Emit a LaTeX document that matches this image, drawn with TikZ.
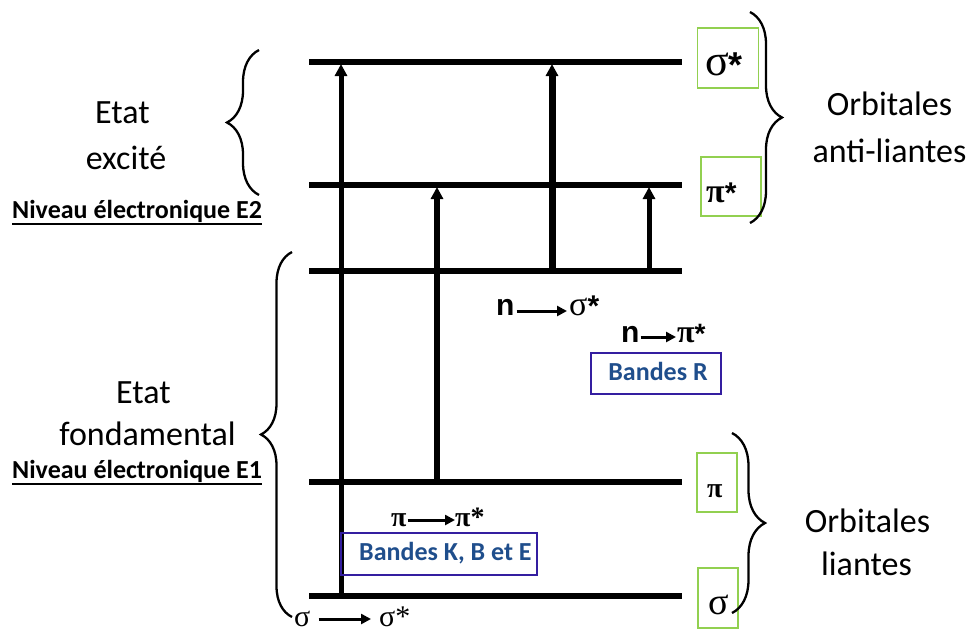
\documentclass[tikz,border=0pt]{standalone}
\usepackage{fontspec}
\setmainfont{Carlito}
\newfontfamily\grk{Liberation Serif}
\newfontfamily\arl{Liberation Sans}
\usetikzlibrary{arrows.meta,decorations.pathreplacing}
\definecolor{boxgreen}{RGB}{146,208,80}
\definecolor{bandblue}{RGB}{31,78,140}
\definecolor{bandframe}{RGB}{52,30,160}
\newcommand\fs[1]{\fontsize{#1}{#1}\selectfont}

\begin{document}
\begin{tikzpicture}[x=1pt,y=-1pt,
  level/.style={line width=5.5pt},
  excite/.style={line width=#1,-{Triangle[width=12pt,length=12pt]}},
  excite/.default=5pt,
  orb/.style={draw=boxgreen,line width=1.3pt,inner sep=0pt},
  band/.style={draw=bandframe,line width=1.3pt,inner sep=0pt},
  bandtxt/.style={text=bandblue,font=\fs{26}\bfseries,inner sep=0pt},
  lbl/.style={font=\fs{34},inner sep=0pt,anchor=base},
  niv/.style={font=\fs{26}\bfseries,inner sep=0pt,anchor=base west},
  brc/.style={line width=2.3pt,decorate,decoration={brace,amplitude=#1}},
  trans/.style={line width=3pt,-{Triangle[width=10pt,length=10pt]}},
  tx/.style={inner sep=0pt,anchor=base west}
]
\useasboundingbox (0,0) rectangle (972,633);

% energy levels
\foreach \nm/\yy in {sst/62, pst/185, nn/271, pp/482, ss/596}{
  \coordinate (\nm L) at (309,\yy);
  \coordinate (\nm R) at (682,\yy);
}
\draw[level] (sstL) -- (sstR);
\draw[level] (pstL) -- (pstR);
\draw[level] (nnL) -- (nnR);
\draw[level] (ppL) -- (ppR);
\draw[level] (ssL) -- (ssR);

% vertical transitions
\coordinate (t1a) at (341,596); \coordinate (t1b) at (341,64);
\coordinate (t2a) at (437,482); \coordinate (t2b) at (437,187);
\coordinate (t3a) at (552,271); \coordinate (t3b) at (552,64);
\coordinate (t4a) at (649,271); \coordinate (t4b) at (649,187);
\draw[excite] (t1a) -- (t1b);
\draw[excite=5.5pt] (t2a) -- (t2b);
\draw[excite=7pt] (t3a) -- (t3b);
\draw[excite] (t4a) -- (t4b);

% orbital boxes and their symbols
\node[orb,minimum width=61pt,minimum height=60pt] (bsst) at (728,58) {};
\node[orb,minimum width=60pt,minimum height=59pt] (bpst) at (731,186.5) {};
\node[orb,minimum width=40pt,minimum height=59pt] (bpp) at (717,482.5) {};
\node[orb,minimum width=40pt,minimum height=60pt] (bss) at (718,598) {};
\node[tx] (lsst) at (705,75) {\grk\fs{44}σ\raisebox{-2pt}{\arl\fs{36}\bfseries*}};
\node[tx] (lpst) at (706,202) {\grk\fs{34}\bfseries π\raisebox{-1pt}{\arl\fs{30}*}};
\node[tx] (lpp) at (707,497) {\grk\fs{28}\bfseries π};
\node[tx] (lss) at (708,614) {\grk\fs{38}σ};

% braces
\coordinate (bl1a) at (259,195); \coordinate (bl1b) at (259,50);
\coordinate (bl2a) at (292,617); \coordinate (bl2b) at (292,252);
\coordinate (br1a) at (750,12);  \coordinate (br1b) at (750,223);
\coordinate (br2a) at (732,433); \coordinate (br2b) at (732,613);
\draw[brc=32pt] (bl1a) -- (bl1b);
\draw[brc=31pt] (bl2a) -- (bl2b);
\draw[brc=32pt] (br1a) -- (br1b);
\draw[brc=33pt] (br2a) -- (br2b);

% state labels
\node[lbl] (e1) at (122.5,123) {Etat};
\node[lbl] (e2) at (126,169) {excité};
\node[niv] (nv2) at (12,218) {Niveau électronique E2};
\draw[line width=1.8pt] ([yshift=-6pt]nv2.base west) -- ([yshift=-6pt]nv2.base east);
\node[lbl] (f1) at (143.5,403) {Etat};
\node[lbl] (f2) at (147.5,445) {fondamental};
\node[niv] (nv1) at (12,478) {Niveau électronique E1};
\draw[line width=1.8pt] ([yshift=-6pt]nv1.base west) -- ([yshift=-6pt]nv1.base east);

\node[lbl] (o1) at (889.5,115) {Orbitales};
\node[lbl] (o2) at (889.5,162) {anti-liantes};
\node[lbl] (o3) at (867.5,532) {Orbitales};
\node[lbl] (o4) at (866.5,575) {liantes};

% transition labels
\node[tx] (n1) at (496,315) {\arl\fs{30}\bfseries n};
\node[tx] (s1) at (569,315) {\grk\fs{34}σ\raisebox{-1pt}{\arl\fs{30}\bfseries*}};
\draw[trans] ([shift={(2pt,4pt)}]n1.base east) -- ([shift={(-2pt,4pt)}]s1.base west);

\node[tx] (n2) at (621,342) {\arl\fs{30}\bfseries n};
\node[tx] (p2) at (677,342) {\grk\fs{32}\bfseries π\raisebox{-1pt}{\arl\fs{28}\bfseries*}};
\draw[trans] ([shift={(1pt,5pt)}]n2.base east) -- ([shift={(-1pt,5pt)}]p2.base west);

\node[tx] (p3) at (391,526) {\grk\fs{28}\bfseries π};
\node[tx] (p4) at (455,526) {\grk\fs{28}\bfseries π*};
\draw[trans] ([shift={(1pt,6pt)}]p3.base east) -- ([shift={(0pt,6pt)}]p4.base west);

\node[tx] (s3) at (294,626) {\grk\fs{30}σ};
\node[tx] (s4) at (379,626) {\grk\fs{30}σ*};
\draw[trans] ([shift={(8pt,7pt)}]s3.base east) -- ([shift={(-8pt,7pt)}]s4.base west);

% band boxes
\node[band,minimum width=130pt,minimum height=41pt] (bR) at (656,373.5) {};
\node[bandtxt,anchor=base] (tR) at (658,380) {Bandes R};
\node[band,minimum width=196pt,minimum height=42pt] (bK) at (439,554) {};
\node[bandtxt,anchor=base west] (tK) at (359,560) {Bandes K, B et E};
\end{tikzpicture}
\end{document}
